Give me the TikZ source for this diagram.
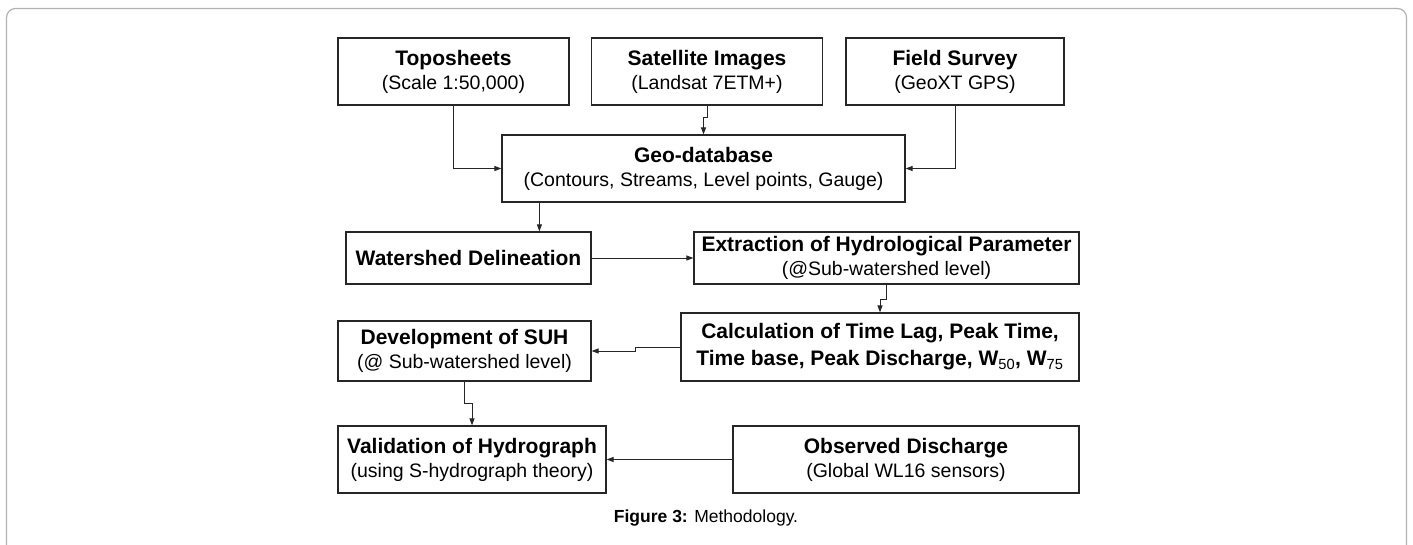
\documentclass[tikz,border=0pt]{standalone}
\usepackage{fontspec}
\setmainfont{Liberation Sans}
\usetikzlibrary{arrows.meta,calc}
\newcommand\ttl[1]{{\fontsize{21}{24}\selectfont\bfseries #1}}
\begin{document}
\begin{tikzpicture}[x=1pt,y=-1pt,
  box/.style={draw=black!85, line width=1.2pt, align=center, inner sep=2pt,
    font=\fontsize{19.5}{24}\selectfont},
  arr/.style={draw=black!85, line width=1pt, -{Triangle[length=7pt,width=5pt]}},
  frame/.style={draw=black!30, line width=1.2pt, rounded corners=9pt}]
\useasboundingbox (0,0) rectangle (1413,544);
\draw[frame] (6.5,560) -- (6.5,8.5) -- (1406.5,8.5) -- (1406.5,560);
% boxes
\node[box, minimum width=231pt, minimum height=67pt] (topo) at (453.5,71.5)
  {\ttl{Toposheets}\\(Scale 1:50,000)};
\node[box, minimum width=231pt, minimum height=67pt] (sat) at (707,71.5)
  {\ttl{Satellite Images}\\(Landsat 7ETM+)};
\node[box, minimum width=218pt, minimum height=67pt] (field) at (955,71.5)
  {\ttl{Field Survey}\\(GeoXT GPS)};
\node[box, minimum width=403pt, minimum height=67pt] (geo) at (703.5,168.5)
  {\ttl{Geo-database}\\(Contours, Streams, Level points, Gauge)};
\node[box, minimum width=245pt, minimum height=52pt] (water) at (468.5,258)
  {\ttl{Watershed Delineation}};
\node[box, minimum width=385pt, minimum height=52pt] (extr) at (886.5,258)
  {\ttl{Extraction of Hydrological Parameter}\\(@Sub-watershed level)};
\node[box, minimum width=398pt, minimum height=68pt, font=\fontsize{21}{27}\selectfont\bfseries] (calc) at (880,347)
  {Calculation of Time Lag, Peak Time,\\Time base, Peak Discharge, W\textsubscript{\mdseries 50}, W\textsubscript{\mdseries 75}};
\node[box, minimum width=253pt, minimum height=60pt] (dev) at (464.5,351)
  {\ttl{Development of SUH}\\(@ Sub-watershed level)};
\node[box, minimum width=268pt, minimum height=67pt] (valid) at (472,459.5)
  {\ttl{Validation of Hydrograph}\\(using S-hydrograph theory)};
\node[box, minimum width=346pt, minimum height=67pt] (obs) at (906,459.5)
  {\ttl{Observed Discharge}\\(Global WL16 sensors)};
% caption
\node[font=\fontsize{17.5}{20}\selectfont, inner sep=0pt] (cap) at (706,518)
  {\textbf{Figure 3:} Methodology.};
% connectors
\draw[arr] (topo.south) |- (geo.west);
\draw[arr] (sat.south) -- ++(0,12) -| (geo.north);
\draw[arr] (field.south) |- (geo.east);
\draw[arr] ($(geo.south west)+(38,0)$) coordinate (g1) -- (g1 |- water.north);
\draw[arr] (water.east) -- (extr.west);
\draw[arr] (extr.south) -- ++(0,15) -| (calc.north);
\draw[arr] (calc.west) -- ++(-45,0) |- (dev.east);
\draw[arr] (dev.south) -- ++(0,22) -| (valid.north);
\draw[arr] (obs.west) -- (valid.east);
\end{tikzpicture}
\end{document}
